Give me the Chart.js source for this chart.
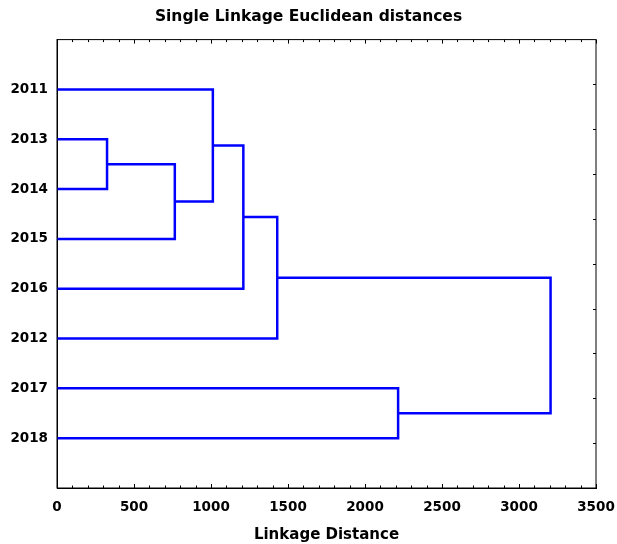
<!DOCTYPE html>
<html>
<head>
<meta charset="utf-8">
<script src="https://cdn.jsdelivr.net/npm/chart.js@4/dist/chart.umd.min.js"></script>
<style>
  body { margin: 0; background: #fff; }
  #wrap { width: 617px; height: 544px; }
</style>
</head>
<body>
<div id="wrap"><canvas id="myChart" width="617" height="544"></canvas></div>
<script>
// leaf order top to bottom
const leafLabels = ['2011', '2013', '2014', '2015', '2016', '2012', '2017', '2018'];
// merge k joins joinA[k] and joinB[k] at joinDist[k]; merge k is called 'm' + (k + 1)
const joinA = ['2013', 'm1', '2011', 'm3', 'm4', '2017', 'm5'];
const joinB = ['2014', '2015', 'm2', '2016', '2012', '2018', 'm6'];
const joinDist = [325, 765, 1012, 1210, 1430, 2215, 3205];

const FONT = 'DejaVu Sans';

const nodes = {};
leafLabels.forEach((l, i) => { nodes[l] = { x: 0, y: i + 1 } });

const datasets = [];
joinDist.forEach((h, k) => {
    const a = nodes[joinA[k]];
    const b = nodes[joinB[k]];
    datasets.push({
        data: [
            { x: a.x, y: a.y },
            { x: h, y: a.y },
            { x: h, y: b.y },
            { x: b.x, y: b.y }
        ],
        borderColor: '#0000ff',
        borderWidth: 2.5,
        pointRadius: 0,
        fill: false,
        tension: 0
    });
    nodes['m' + (k + 1)] = { x: h, y: (a.y + b.y) / 2 };
});

// frame plus inward tick marks
const frameTicks = {
    id: 'frameTicks',
    afterDraw(chart) {
        const { ctx, chartArea: a } = chart;
        const xs = chart.scales.x;
        ctx.save();
        ctx.strokeStyle = '#000';
        ctx.lineWidth = 1;
        ctx.strokeRect(a.left, a.top, a.right - a.left, a.bottom - a.top);
        ctx.beginPath();
        for (let v = 0; v <= 3500; v += 100) {
            const px = Math.round(xs.getPixelForValue(v)) + 0.5;
            const len = v % 500 === 0 ? 4 : 2.5;
            ctx.moveTo(px, a.bottom);
            ctx.lineTo(px, a.bottom - len);
            ctx.moveTo(px, a.top);
            ctx.lineTo(px, a.top + len);
        }
        for (let i = 1; i < 10; i++) {
            const py = Math.round(a.top + i * (a.bottom - a.top) / 10) + 0.5;
            ctx.moveTo(a.right, py);
            ctx.lineTo(a.right - 3, py);
        }
        ctx.stroke();
        ctx.restore();
    }
};

new Chart(document.getElementById('myChart'), {
    type: 'line',
    data: { datasets: datasets },
    options: {
        responsive: false,
        animation: false,
        layout: { padding: 0 },
        plugins: {
            legend: { display: false },
            tooltip: { enabled: false },
            title: {
                display: true,
                text: 'Single Linkage Euclidean distances',
                color: '#000',
                font: { family: FONT, size: 15.5, weight: 'bold' },
                padding: { top: 8, bottom: 13 }
            }
        },
        scales: {
            x: {
                type: 'linear',
                min: 0,
                max: 3500,
                grid: { display: false, drawTicks: false },
                border: { color: '#000', width: 1 },
                ticks: {
                    stepSize: 500,
                    color: '#000',
                    padding: 11,
                    maxRotation: 0,
                    font: { family: FONT, size: 13.5, weight: 'bold' },
                    callback: v => String(v)
                },
                title: {
                    display: true,
                    text: 'Linkage Distance',
                    color: '#000',
                    font: { family: FONT, size: 15, weight: 'bold' },
                    padding: { top: 0, bottom: 0 }
                },
                afterFit(scale) {
                    scale.height = 56;
                    scale.paddingLeft = 0;
                    scale.paddingRight = 21;
                }
            },
            y: {
                type: 'linear',
                reverse: true,
                min: 0,
                max: 9,
                grid: { display: false, drawTicks: false },
                border: { color: '#000', width: 1 },
                ticks: {
                    stepSize: 1,
                    autoSkip: false,
                    color: '#000',
                    padding: 9,
                    font: { family: FONT, size: 13.5, weight: 'bold' },
                    callback: v => leafLabels[v - 1] || ''
                },
                afterFit(scale) { scale.width = 57 }
            }
        }
    },
    plugins: [frameTicks]
});
</script>
</body>
</html>
